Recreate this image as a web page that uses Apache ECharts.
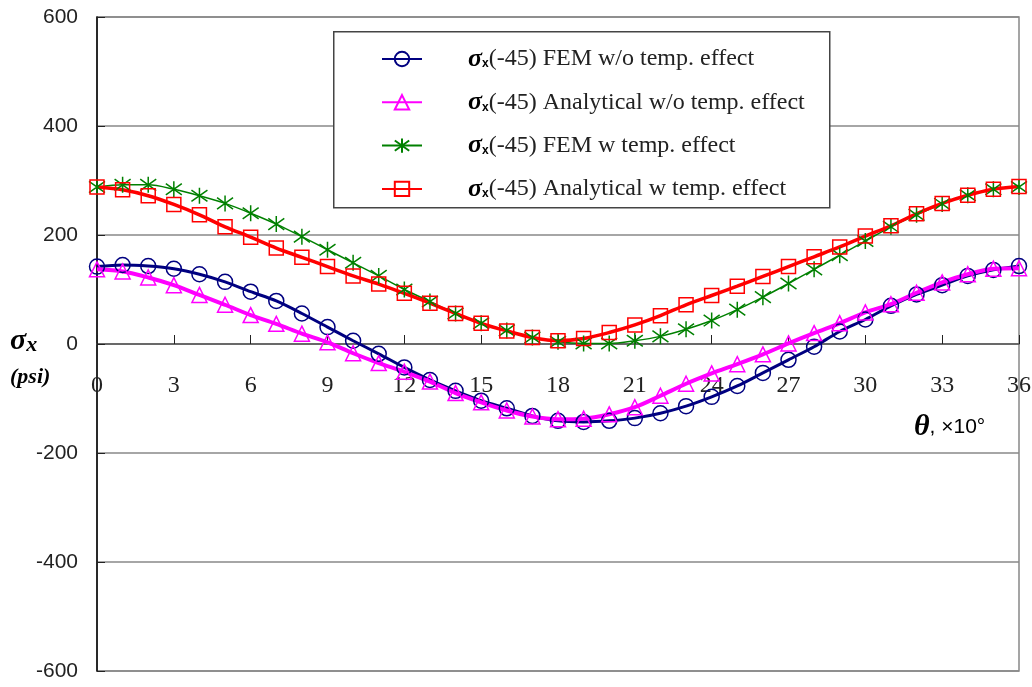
<!DOCTYPE html>
<html><head><meta charset="utf-8">
<script src="https://cdn.jsdelivr.net/npm/echarts@6/dist/echarts.min.js"></script>
<style>html,body{margin:0;padding:0;background:#fff}#c{width:1032px;height:687px}</style>
</head><body><div id="c"></div>
<script>
const theta = [0,1,2,3,4,5,6,7,8,9,10,11,12,13,14,15,16,17,18,19,20,21,22,23,24,25,26,27,28,29,30,31,32,33,34,35,36];
const xTicks = [0,3,6,9,12,15,18,21,24,27,30,33,36];
const yTicks = [-600,-400,-200,0,200,400,600];
const femNoTemp = [142,145,143,138,128,114,96,79,56,31,6,-18,-43,-66,-86,-104,-118,-132,-141,-143,-141,-136,-127,-114,-97,-77,-53,-29,-5,23,45,70,91,108,125,136,143];
const anaNoTemp = [137,133,122,108,90,72,53,37,19,3,-17,-35,-51,-69,-90,-107,-122,-133,-138,-137,-129,-116,-95,-73,-54,-37,-19,1,20,38,58,73,94,113,128,138,139];
const femTemp = [288,292,292,284,272,258,240,220,197,173,149,125,100,78,56,38,25,12,4,1,1,6,14,27,43,63,86,111,137,163,189,215,237,257,273,284,288];
const anaTemp = [288,283,272,256,237,215,196,176,159,142,125,110,93,75,56,38,24,12,6,10,21,35,52,72,89,106,124,142,160,178,198,217,239,258,273,284,289];
const names = ['FEM w/o temp. effect','Analytical w/o temp. effect','FEM w temp. effect','Analytical w temp. effect'];

const chart = echarts.init(document.getElementById('c'));
const pts = arr => theta.map((t,i)=>[t,arr[i]]);
const star = 'path://M10,0L10,20M2.9,2.9L17.1,17.1M2.9,17.1L17.1,2.9';
function mk(name, data, color, lw, symbol, ssize, bw){
  return {name, type:'line', data:pts(data), smooth:0.3, symbol, symbolSize:ssize, z:5,
    lineStyle:{color, width:lw}, itemStyle:{color:'rgba(0,0,0,0)', borderColor:color, borderWidth:bw},
    emphasis:{disabled:true}, animation:false};
}
const legendNames = names.map(n=>'σx(-45) '+n);
chart.setOption({
  animation:false,
  grid:{left:97,right:13,top:17,bottom:16,outerBoundsMode:'none',containLabel:false,show:true,borderColor:'#888',borderWidth:1.5,backgroundColor:'rgba(0,0,0,0)'},
  xAxis:{type:'value',min:0,max:36,interval:3,position:'bottom',offset:-327,z:1,
    axisLine:{onZero:false,lineStyle:{color:'#555',width:1.5}},
    axisTick:{inside:true,length:9,lineStyle:{color:'#222',width:1}},
    axisLabel:{margin:30,fontFamily:'Liberation Serif',fontSize:24,color:'#222',formatter:v=>xTicks.includes(v)?String(v):''},
    splitLine:{show:false}},
  yAxis:{type:'value',min:-600,max:600,interval:200,z:1,
    axisLine:{show:true,onZero:false,lineStyle:{color:'#000',width:1.5}},
    axisTick:{show:true,inside:true,length:8,lineStyle:{color:'#222'}},
    axisLabel:{margin:19,fontFamily:'Liberation Sans',fontSize:21,color:'#222',formatter:v=>yTicks.includes(v)?String(v):''},
    splitLine:{show:true,lineStyle:{color:'#888',width:1.5}}},
  legend:{show:true,orient:'vertical',left:376,top:41,itemWidth:40,itemHeight:18,itemGap:17.3,z:6,
    data:legendNames,
    formatter:n=>'{g|}{s|σ}{b|x}{t|'+n.replace('σx','')+'}',
    textStyle:{rich:{
      g:{width:41,lineHeight:24},
      s:{fontFamily:'Liberation Serif',fontStyle:'italic',fontWeight:'bold',fontSize:26,color:'#000',lineHeight:24},
      b:{fontFamily:'Liberation Sans',fontWeight:'bold',fontSize:12,color:'#000',lineHeight:24,padding:[10,0,0,0]},
      t:{fontFamily:'Liberation Serif',fontSize:24,color:'#222',lineHeight:24}}}},
  graphic:[
    {type:'rect',left:333,top:31,shape:{width:496,height:176},style:{fill:'#fff',stroke:'#444',lineWidth:1.5},z:5.5},
    {type:'text',left:10,top:326,style:{rich:{s:{fontFamily:'Liberation Serif',fontStyle:'italic',fontWeight:'bold',fontSize:30,fill:'#000'},x:{fontFamily:'Liberation Serif',fontStyle:'italic',fontWeight:'bold',fontSize:22,fill:'#000',padding:[8,0,0,0]}},text:'{s|σ}{x|x}'}},
    {type:'text',left:10,top:366,style:{text:'(psi)',font:'italic bold 22px Liberation Serif',fill:'#000'}},
    {type:'text',left:914,top:412,style:{rich:{s:{fontFamily:'Liberation Serif',fontStyle:'italic',fontWeight:'bold',fontSize:30,fill:'#000'},t:{fontFamily:'Liberation Sans',fontSize:21,fill:'#000'}},text:'{s|θ}{t|, ×10°}'}}
  ],
  series:[
    mk(legendNames[0],femNoTemp,'#000080',3,'circle',15,1.5),
    mk(legendNames[1],anaNoTemp,'#ff00ff',4,'triangle',15,1.5),
    mk(legendNames[2],femTemp,'#008000',1.5,star,16,1.5),
    mk(legendNames[3],anaTemp,'#ff0000',3.5,'rect',14,1.5)
  ]
});
</script></body></html>
